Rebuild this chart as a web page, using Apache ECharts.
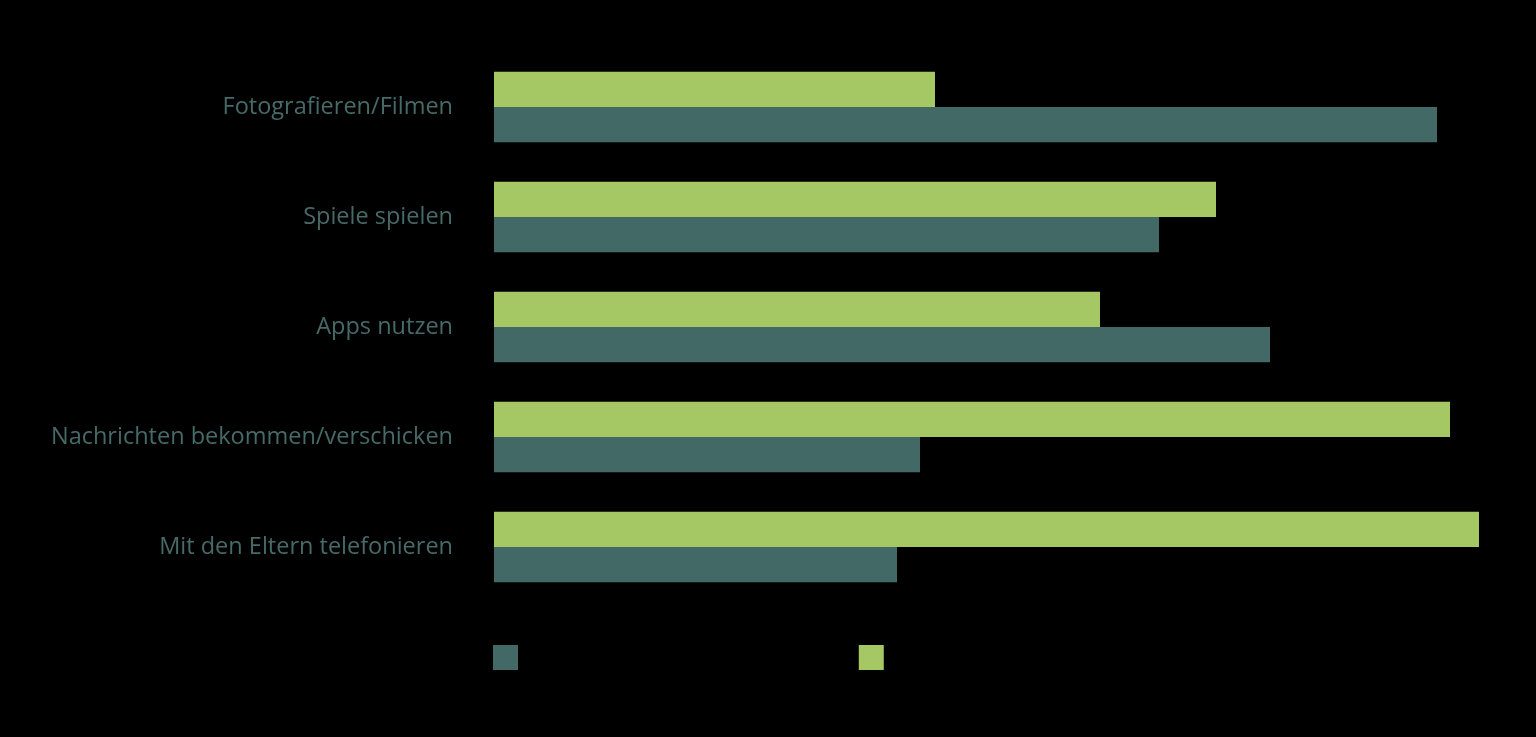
<!DOCTYPE html>
<html><head><meta charset="utf-8">
<script src="https://cdn.jsdelivr.net/npm/echarts@6/dist/echarts.min.js"></script>
<style>html,body{margin:0;padding:0;background:#000;}#c{width:1536px;height:737px;}</style>
</head><body><div id="c"></div>
<script>
const categories = ["Fotografieren/Filmen","Spiele spielen","Apps nutzen","Nachrichten bekommen/verschicken","Mit den Eltern telefonieren"];
const seriesNames = ["Kinder mit eigenem Handy/Smartphone","Kinder ohne eigenes Handy/Smartphone"];
const darkValues = [94.3, 66.5, 77.6, 42.6, 40.3];
const lightValues = [44.1, 72.2, 60.6, 95.6, 98.5];

const chart = echarts.init(document.getElementById('c'));
chart.setOption({
  backgroundColor: '#000',
  animation: false,
  textStyle: {fontFamily: 'Open Sans'},
  legend: {
    data: seriesNames,
    left: 488, top: 640,
    itemWidth: 25, itemHeight: 25, icon: 'rect',
    itemGap: 20,
    textStyle: {color: '#000', fontSize: 17}
  },
  grid: {left: 494, right: 42, top: 52, bottom: 135, containLabel: false},
  xAxis: {type: 'value', min: 0, max: 100, show: false},
  yAxis: {
    type: 'category', data: categories, inverse: true,
    axisLine: {show: false}, axisTick: {show: false},
    axisLabel: {color: '#466a68', fontSize: 23.5, margin: 41, fontFamily: 'Open Sans'}
  },
  series: [
    {name: seriesNames[1], type: 'bar', data: lightValues, itemStyle: {color: '#a5c864'}, barGap: '0%', barCategoryGap: '36%'},
    {name: seriesNames[0], type: 'bar', data: darkValues, itemStyle: {color: '#426966'}, barGap: '0%', barCategoryGap: '36%'}
  ]
});
</script></body></html>
